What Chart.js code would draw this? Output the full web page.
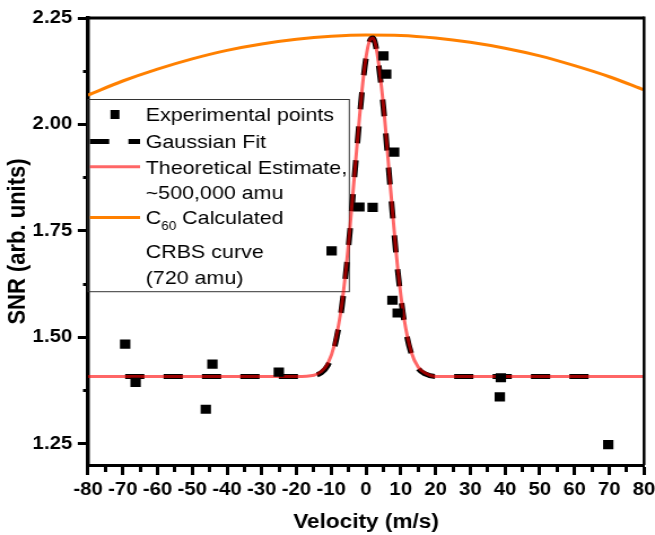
<!DOCTYPE html>
<html>
<head>
<meta charset="utf-8">
<title>SNR vs Velocity</title>
<script src="https://cdn.jsdelivr.net/npm/chart.js"></script>
<style>
  html, body { margin: 0; padding: 0; background: #fff; overflow: hidden; }
  /* the original figure is stretched horizontally, so the chart is drawn narrower and scaled */
  #wrap { width: 580px; height: 535px; transform: scaleX(1.1293); transform-origin: 0 0; }
</style>
</head>
<body>
<div id="wrap"><canvas id="snrChart"></canvas></div>
<script>
// --- Data ---
const expX = [-69.3, -66.3, -46.1, -44.2, -25.1, -9.9, -1.9, 1.9, 5.0, 5.8, 8.1, 7.6, 9.1, 38.8, 38.5, 69.7];
const expY = [1.484, 1.394, 1.331, 1.437, 1.418, 1.703, 1.806, 1.805, 2.161, 2.118, 1.935, 1.587, 1.557, 1.405, 1.360, 1.248];

// Gaussian fit (dashed black), drawn over the data range only
const fitX = [-69.3, -20, -15, -13, -11, -9, -7, -5, -3, -1, 0, 1, 2, 3, 5, 7, 9, 11, 13, 15, 17, 20, 68.5];
const fitY = [1.408, 1.408, 1.410, 1.416, 1.434, 1.479, 1.569, 1.716, 1.907, 2.089, 2.156, 2.195, 2.203, 2.175, 2.040, 1.848, 1.666, 1.536, 1.462, 1.427, 1.414, 1.408, 1.408];

// Theoretical estimate, ~500,000 amu (red)
const theoX = [-80, -20, -15, -13, -11, -9, -7, -5, -3, -1, 0, 1, 2, 3, 5, 7, 9, 11, 13, 15, 17, 20, 80];
const theoY = [1.408, 1.408, 1.411, 1.419, 1.438, 1.485, 1.575, 1.722, 1.912, 2.092, 2.158, 2.196, 2.203, 2.177, 2.045, 1.855, 1.672, 1.541, 1.466, 1.430, 1.416, 1.408, 1.408];

// C60 calculated CRBS curve, 720 amu (orange)
const c60X = [-80, -70, -60, -50, -40, -30, -20, -10, 0, 10, 20, 30, 40, 50, 60, 70, 80];
const c60Y = [2.069, 2.102, 2.130, 2.154, 2.174, 2.189, 2.200, 2.207, 2.210, 2.209, 2.203, 2.193, 2.179, 2.161, 2.138, 2.112, 2.081];

// Axis ticks
const xMajor = [-80, -70, -60, -50, -40, -30, -20, -10, 0, 10, 20, 30, 40, 50, 60, 70, 80];
const xMinor = [-75, -65, -55, -45, -35, -25, -15, -5, 5, 15, 25, 35, 45, 55, 65, 75];
const yMajor = [1.25, 1.50, 1.75, 2.00, 2.25];
const yMinor = [1.375, 1.625, 1.875, 2.125];

const toPoints = (xs, ys) => xs.map((x, i) => ({ x: x, y: ys[i] }));

const FONT = '"Liberation Sans", Arial, sans-serif';
const RED = 'rgba(255, 0, 0, 0.6)';
const ORANGE = '#ff8000';

// frame on the top and right sides of the plot
const frame = {
  id: 'frame',
  afterDraw(chart) {
    const { ctx, chartArea: a } = chart;
    ctx.save();
    ctx.strokeStyle = '#000';
    ctx.lineWidth = 3;
    ctx.beginPath();
    ctx.moveTo(a.left, a.top);
    ctx.lineTo(a.right, a.top);
    ctx.stroke();
    ctx.lineWidth = 2.5;
    ctx.beginPath();
    ctx.moveTo(a.right, a.top - 1.5);
    ctx.lineTo(a.right, a.bottom);
    ctx.stroke();
    ctx.restore();
  }
};

// boxed legend inside the plot, with multi-line labels and the C60 subscript
const legendBox = {
  id: 'legendBox',
  beforeDatasetsDraw(chart) {
    const { ctx, chartArea: a } = chart;
    const left = a.left, right = 309.3, top = 99.5, bottom = 291.7;
    const lx1 = 79.7, lx2 = 124, tx = 129;
    ctx.save();
    ctx.strokeStyle = '#333';
    ctx.lineWidth = 1;
    ctx.strokeRect(left, top, right - left, bottom - top);

    // markers / line samples
    ctx.fillStyle = '#000';
    ctx.fillRect(101.8 - 4, 114.5 - 4.5, 8, 9);

    ctx.lineCap = 'butt';
    ctx.strokeStyle = '#000';
    ctx.lineWidth = 5;
    ctx.setLineDash([17, 17]);
    ctx.beginPath(); ctx.moveTo(lx1, 141.5); ctx.lineTo(lx2, 141.5); ctx.stroke();
    ctx.setLineDash([]);

    ctx.strokeStyle = RED;
    ctx.lineWidth = 3;
    ctx.beginPath(); ctx.moveTo(lx1, 166.7); ctx.lineTo(lx2, 166.7); ctx.stroke();

    ctx.strokeStyle = ORANGE;
    ctx.beginPath(); ctx.moveTo(lx1, 217.5); ctx.lineTo(lx2, 217.5); ctx.stroke();

    // texts
    ctx.fillStyle = '#000';
    ctx.textBaseline = 'alphabetic';
    ctx.textAlign = 'left';
    ctx.font = '19px ' + FONT;
    ctx.fillText('Experimental points', tx, 121.3);
    ctx.fillText('Gaussian Fit', tx, 148.1);
    ctx.fillText('Theoretical Estimate,', tx, 173.5);
    ctx.fillText('~500,000 amu', tx, 199.1);
    ctx.fillText('C', tx, 224.1);
    const cw = ctx.measureText('C').width;
    ctx.font = '12px ' + FONT;
    ctx.fillText('60', tx + cw, 229.5);
    const sw = ctx.measureText('60').width;
    ctx.font = '19px ' + FONT;
    ctx.fillText(' Calculated', tx + cw + sw, 224.1);
    ctx.fillText('CRBS curve', tx, 257.8);
    ctx.fillText('(720 amu)', tx, 284.1);
    ctx.restore();
  }
};

const ctx = document.getElementById('snrChart').getContext('2d');
new Chart(ctx, {
  type: 'scatter',
  data: {
    datasets: [
      {
        label: 'Experimental points',
        data: toPoints(expX, expY),
        pointStyle: 'rect',
        pointRadius: 6.5,
        pointHoverRadius: 6.5,
        backgroundColor: '#000',
        borderColor: '#000',
        borderWidth: 0,
        showLine: false
      },
      {
        label: 'Theoretical Estimate, ~500,000 amu',
        data: toPoints(theoX, theoY),
        showLine: true,
        borderColor: RED,
        borderWidth: 3,
        pointRadius: 0,
        cubicInterpolationMode: 'monotone',
        fill: false
      },
      {
        label: 'Gaussian Fit',
        data: toPoints(fitX, fitY),
        showLine: true,
        borderColor: '#000',
        borderWidth: 5,
        borderDash: [17, 17],
        borderCapStyle: 'butt',
        pointRadius: 0,
        cubicInterpolationMode: 'monotone',
        fill: false
      },
      {
        label: 'C60 Calculated CRBS curve (720 amu)',
        data: toPoints(c60X, c60Y),
        showLine: true,
        borderColor: ORANGE,
        borderWidth: 3,
        pointRadius: 0,
        cubicInterpolationMode: 'monotone',
        fill: false
      }
    ]
  },
  options: {
    responsive: true,
    maintainAspectRatio: false,
    animation: false,
    events: [],
    layout: { padding: { left: 0, right: 0, top: 18, bottom: 0 } },
    plugins: {
      legend: { display: false },
      tooltip: { enabled: false }
    },
    scales: {
      x: {
        type: 'linear',
        min: -80,
        max: 80,
        afterBuildTicks: (axis) => {
          axis.ticks = xMajor.concat(xMinor).sort((a, b) => a - b).map(v => ({ value: v }));
        },
        afterFit: (axis) => {
          axis.height = 70;
          axis.paddingRight = 9.7;
          axis.paddingLeft = 0;
        },
        ticks: {
          autoSkip: false,
          maxRotation: 0,
          padding: 4,
          color: '#000',
          font: { family: FONT, size: 18, weight: 'bold' },
          callback: (v) => xMajor.includes(v) ? String(v) : ''
        },
        grid: {
          drawOnChartArea: false,
          color: '#000',
          tickColor: '#000',
          tickLength: 10,
          tickWidth: 3,
          tickBorderDash: (c) => (c.tick && xMinor.includes(c.tick.value)) ? [5, 50] : []
        },
        border: { display: true, color: '#000', width: 3 },
        title: {
          display: true,
          text: 'Velocity (m/s)',
          color: '#000',
          font: { family: FONT, size: 20, weight: 'bold' },
          padding: { top: 0, bottom: 1 }
        }
      },
      y: {
        type: 'linear',
        min: 1.2,
        max: 2.25,
        afterBuildTicks: (axis) => {
          axis.ticks = yMajor.concat(yMinor).sort((a, b) => a - b).map(v => ({ value: v }));
        },
        afterFit: (axis) => { axis.width = 77.9; },
        ticks: {
          autoSkip: false,
          padding: 5,
          color: '#000',
          font: { family: FONT, size: 18, weight: 'bold' },
          callback: (v) => yMajor.includes(v) ? v.toFixed(2) : ''
        },
        grid: {
          drawOnChartArea: false,
          color: '#000',
          tickColor: '#000',
          tickLength: 9,
          tickWidth: 3,
          tickBorderDash: (c) => (c.tick && yMinor.includes(c.tick.value)) ? [0, 4.6, 4.4, 50] : []
        },
        border: { display: true, color: '#000', width: 3.5 },
        title: {
          display: true,
          text: 'SNR (arb. units)',
          color: '#000',
          font: { family: FONT, size: 22, weight: 'bold' },
          padding: { top: 3, bottom: 4 }
        }
      }
    }
  },
  plugins: [frame, legendBox]
});
</script>
</body>
</html>
